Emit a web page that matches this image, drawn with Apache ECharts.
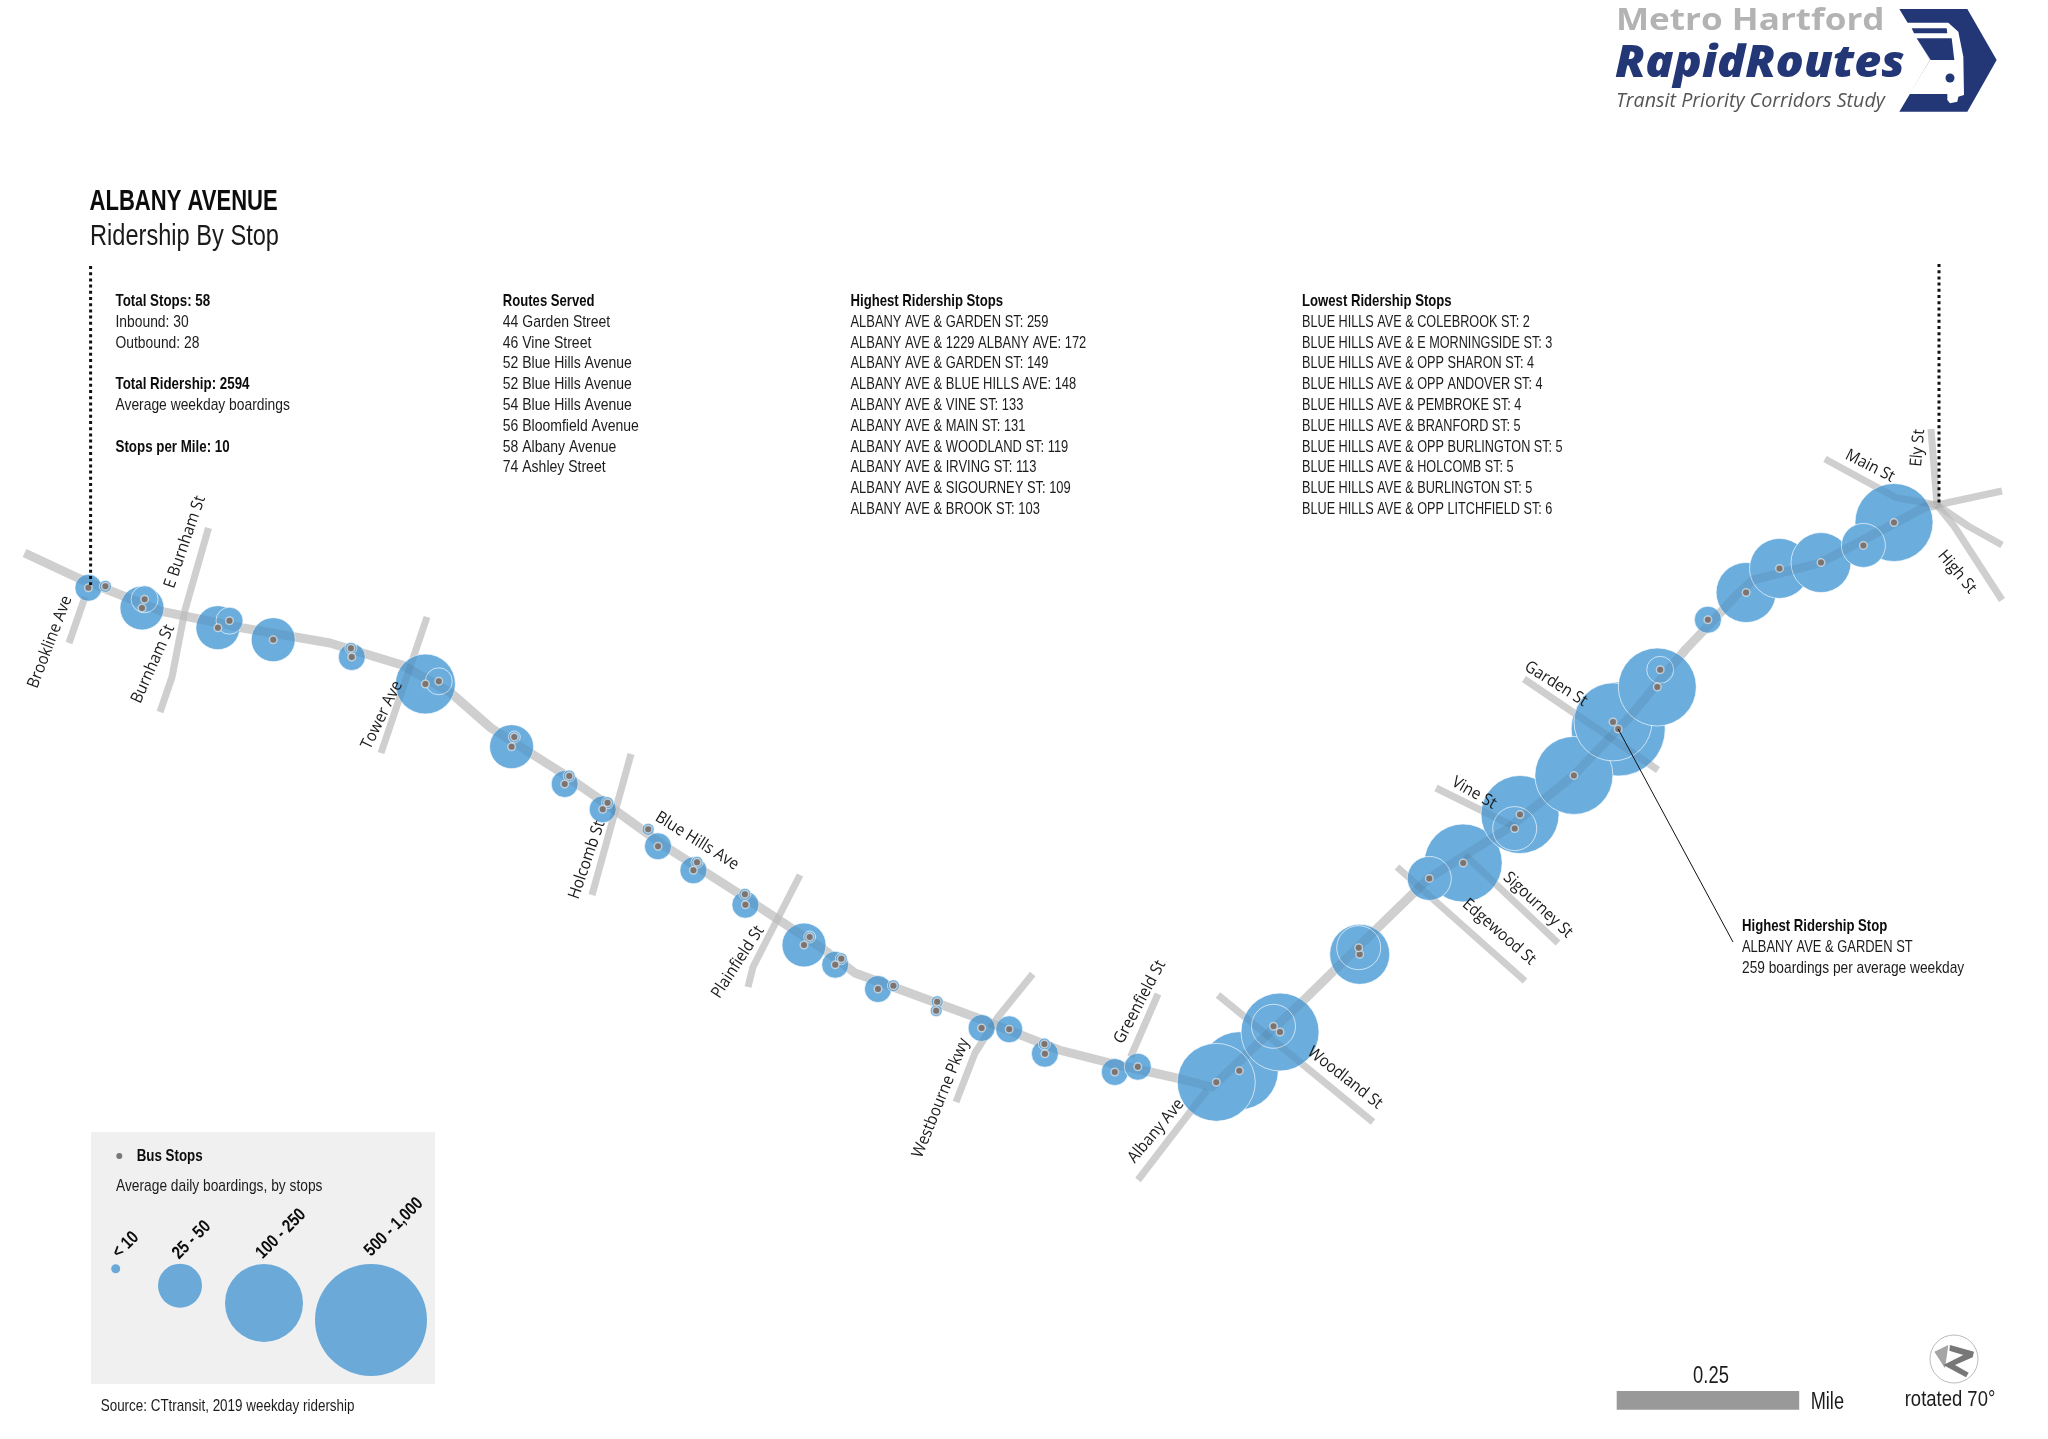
<!DOCTYPE html>
<html><head><meta charset="utf-8">
<script src="https://cdn.jsdelivr.net/npm/echarts@6/dist/echarts.min.js"></script>
<style>html,body{margin:0;padding:0;background:#fff}#c{width:2048px;height:1439px}</style>
</head><body><div id="c"></div>
<script>
// stops along the corridor (map x, map y, average weekday boardings)
const stopX = [88.4,105.4,142,144.6,217.9,229.5,273.2,351.8,350.9,425.4,438.8,511.6,514.3,564.7,569.2,602.7,607.6,648.2,658,693.4,697,745.4,744.9,804,809.7,835.2,841.3,878,893.4,937.2,936.2,981.6,1009.2,1044.9,1044.4,1114.8,1137.8,1239.3,1216.3,1280,1273.5,1359.7,1358.7,1429.3,1463.2,1514.7,1520,1573.9,1618.2,1613,1657.3,1660.2,1707.9,1746.1,1779.5,1821,1863.4,1894];
const stopY = [587.7,586.3,608,599.3,627.7,620.7,639.7,657,648.3,684,681.3,746.7,737,784,776,809.3,802.7,829.3,846.3,870.3,862.3,904.7,894.3,945,937,964.7,958.7,989,985.7,1001.7,1010.7,1028,1029.3,1053.7,1044,1072,1066.7,1070.7,1082.3,1032,1026.3,954.3,947.7,878.4,863,828.6,814.5,775.4,729,721.9,687,669.8,619.7,592.5,568.4,562.6,545.4,522.5];
const boardings = [14,3,38,13,42,15,44,16,6,92,12,40,5,14,4,13,5,2,15,14,4,13,5,41,5,12,5,14,3,4,5,15,13,16,5,14,12,103,148,119,39,82,36,37,109,43,133,172,259,149,113,15,14,84,86,88,41,131];
// graduated symbol classes of the legend
const classBreaks = [10,25,50,100,250,500];
const classSizes = [12,27,44,60,78,94,112];
const legendValues = [5,40,180,750];
const legendSizeOverride = [9,null,null,null];
const legendLabels = ['< 10','25 - 50','100 - 250','500 - 1,000'];
const legendX = [115.7,180,264,371];
const legendY = [1268.7,1285.7,1303,1320];

// street network
const mainRoute = [[24.6,553],[78,578],[163,611.7],[243,628],[330,643],[402,665],[451,693],[491,728],[562,773],[612,808],[666,847],[738,893],[824.5,950],[855,973],[896,988],[977.6,1018],[1059,1050],[1110,1063],[1176.5,1078],[1212,1087],[1304,1000],[1375.5,930],[1429,878],[1510,827],[1574,775],[1629,717.6],[1686,649],[1708,626],[1736.5,595],[1753,580],[1820,563],[1925,507],[1937,505]];
const brooklineAve = [[69,643],[85,597]];
const burnhamSt = [[208.5,528],[185,610],[172,677],[160,712]];
const towerAve = [[427,617],[381,753]];
const holcombSt = [[631,754],[592,895]];
const plainfieldSt = [[800,875],[776,922],[753,967],[748,987]];
const westbournePkwy = [[1032.7,974],[998,1017],[975,1053],[956,1102]];
const greenfieldSt = [[1158,994],[1130.6,1057]];
const albanyAve = [[1138,1180],[1207,1090]];
const woodlandSt = [[1218,995],[1373,1122]];
const edgewoodSt = [[1397,867],[1525,981]];
const sigourneySt = [[1465,855],[1558,943]];
const vineSt = [[1436,788],[1515,827]];
const gardenSt = [[1524,679],[1658,770]];
const mainSt = [[1825,459],[1896,497.6],[1937,505]];
const elySt = [[1931,429],[1937,505]];
const branchEast = [[1937,505],[2002,491]];
const branchSouthEast = [[1937,505],[1968,526],[2002,545]];
const highSt = [[1937,505],[1954,526],[2002,600]];
const crossStreets = [brooklineAve,burnhamSt,towerAve,holcombSt,plainfieldSt,westbournePkwy,greenfieldSt,albanyAve,woodlandSt,edgewoodSt,sigourneySt,vineSt,gardenSt,mainSt,elySt,branchEast,branchSouthEast,highSt];

const dottedLeft = [[90.6,266],[90.6,585]];
const dottedRight = [[1939,264],[1939,505]];
const leader = [[1618.2,729],[1733,942]];

// street labels: text, x, y, rotation
const streetLabels = [
 ['Brookline Ave',50,642,69],['E Burnham St',185,542,71],['Burnham St',153,664,66],['Tower Ave',382,715,64],
 ['Holcomb St',587,860,71],['Blue Hills Ave',697,841,-32],['Plainfield St',738,962,57],['Westbourne Pkwy',941,1098,68],
 ['Greenfield St',1140,1002,62],['Albany Ave',1156,1131,50],['Woodland St',1345,1078,-38],['Edgewood St',1499,932,-41],
 ['Sigourney St',1538,905,-43],['Vine St',1474,793,-30],['Garden St',1556,684,-32],['Main St',1870,466,-27],['Ely St',1918,448,85],['High St',1957,572,-50]
];

const statsLines = [['Total Stops: 58',1],['Inbound: 30',0],['Outbound: 28',0],['',0],['Total Ridership: 2594',1],['Average weekday boardings',0],['',0],['Stops per Mile: 10',1]];
const routesLines = ['Routes Served','44 Garden Street','46 Vine Street','52 Blue Hills Avenue','52 Blue Hills Avenue','54 Blue Hills Avenue','56 Bloomfield Avenue','58 Albany Avenue','74 Ashley Street'];
const highestLines = ['Highest Ridership Stops','ALBANY AVE & GARDEN ST: 259','ALBANY AVE & 1229 ALBANY AVE: 172','ALBANY AVE & GARDEN ST: 149','ALBANY AVE & BLUE HILLS AVE: 148','ALBANY AVE & VINE ST: 133','ALBANY AVE & MAIN ST: 131','ALBANY AVE & WOODLAND ST: 119','ALBANY AVE & IRVING ST: 113','ALBANY AVE & SIGOURNEY ST: 109','ALBANY AVE & BROOK ST: 103'];
const lowestLines = ['Lowest Ridership Stops','BLUE HILLS AVE & COLEBROOK ST: 2','BLUE HILLS AVE & E MORNINGSIDE ST: 3','BLUE HILLS AVE & OPP SHARON ST: 4','BLUE HILLS AVE & OPP ANDOVER ST: 4','BLUE HILLS AVE & PEMBROKE ST: 4','BLUE HILLS AVE & BRANFORD ST: 5','BLUE HILLS AVE & OPP BURLINGTON ST: 5','BLUE HILLS AVE & HOLCOMB ST: 5','BLUE HILLS AVE & BURLINGTON ST: 5','BLUE HILLS AVE & OPP LITCHFIELD ST: 6'];

const NARROW = '"Liberation Sans",sans-serif';
const OPEN = '"Open Sans",sans-serif';
const sizeOf = v => { let i = 0; while (i < classBreaks.length && v >= classBreaks[i]) i++; return classSizes[i]; };

const chart = echarts.init(document.getElementById('c'), null, {renderer:'canvas', width:2048, height:1439});
const gfx = [];
function T(text,x,y,o){ o=o||{}; gfx.push({type:'text',x,y,z:o.z||50,silent:true,rotation:(o.rot||0)*Math.PI/180,originX:0,originY:0,scaleX:o.sx||0.81,
  style:{text,fill:o.fill||'#1c1c1c',font:(o.style||'normal')+' '+(o.w||'normal')+' '+(o.size||17)+'px '+(o.fam||NARROW),textAlign:o.align||'left',textVerticalAlign:'middle',verticalAlign:'middle'}}); }
const BOLD = {w:'bold',fill:'#0c0c0c',sx:0.785};

// panels and text
gfx.push({type:'rect',z:0,shape:{x:91,y:1132,width:344,height:252},style:{fill:'#f0f0f0'},silent:true});
T('ALBANY AVENUE',89.5,201.5,{size:29,w:'bold',fill:'#0c0c0c',sx:0.76});
T('Ridership By Stop',90,236.5,{size:30,fill:'#1a1a1a',sx:0.787});
const rowY = i => 301.3 + i*20.8;
statsLines.forEach((r,i)=>{ if(r[0]) T(r[0],115.5,rowY(i),r[1]?BOLD:{sx:0.814}); });
routesLines.forEach((t,i)=>T(t,502.8,rowY(i),i?{sx:0.824}:Object.assign({},BOLD,{sx:0.77})));
highestLines.forEach((t,i)=>T(t,850.5,rowY(i),i?{sx:0.76}:Object.assign({},BOLD,{sx:0.773})));
lowestLines.forEach((t,i)=>T(t,1302,rowY(i),i?{sx:0.745}:Object.assign({},BOLD,{sx:0.773})));
T('Highest Ridership Stop',1742,926,Object.assign({},BOLD,{sx:0.773}));
T('ALBANY AVE & GARDEN ST',1742,947,{sx:0.76});
T('259 boardings per average weekday',1742,968,{sx:0.808});
streetLabels.forEach(s=>T(s[0],s[1],s[2],{rot:s[3],fam:OPEN,size:16.5,sx:0.92,align:'center',fill:'#1a1a1a'}));

// legend
gfx.push({type:'circle',z:50,shape:{cx:119.3,cy:1156,r:3},style:{fill:'#777'},silent:true});
T('Bus Stops',136.7,1156.5,BOLD);
T('Average daily boardings, by stops',116,1186,{sx:0.81});
[[125.7,1245],[191.7,1240],[281,1234],[394,1227]].forEach((p,i)=>T(legendLabels[i],p[0],p[1],{rot:45,w:'bold',align:'center',size:18,sx:0.82,fill:'#0c0c0c'}));
T('Source: CTtransit, 2019 weekday ridership',100.7,1406,{sx:0.79});

// scale bar + north arrow
gfx.push({type:'rect',z:5,shape:{x:1616.7,y:1391,width:182.5,height:18.7},style:{fill:'#999'},silent:true});
T('0.25',1711,1377,{size:23,align:'center',sx:0.8});
T('Mile',1810.7,1403,{size:23,sx:0.79});
T('rotated 70°',1950,1400,{size:22,align:'center',sx:0.84});
gfx.push({type:'circle',z:5,shape:{cx:1954,cy:1359,r:24},style:{fill:'#fff',stroke:'#bbb',lineWidth:1},silent:true});
const nOff = p => p.map(a=>[1600+a[0]/3,1320+a[1]/3]);
gfx.push({type:'polygon',z:6,shape:{points:nOff([[1045,75],[1003,95],[1035,145],[1040,110]])},style:{fill:'#a5a5a5'},silent:true});
gfx.push({type:'polygon',z:6,shape:{points:nOff([[1050,75],[1122,95],[1118,112],[1065,135],[1106,158],[1098,172],[1030,135],[1090,105],[1048,92]])},style:{fill:'#777'},silent:true});

// logo
const logoP = p => p.map(a=>[1560+a[0]/3,a[1]/3]);
T('Metro Hartford',1616,21,{fam:OPEN,w:'bold',size:30,sx:1.17,fill:'#b3b3b3'});
T('RapidRoutes',1615,64,{fam:OPEN,w:800,style:'italic',size:44,sx:1.06,fill:'#233776'});
T('Transit Priority Corridors Study',1616,101,{fam:OPEN,style:'italic',size:20,sx:0.985,fill:'#555'});
gfx.push({type:'polygon',z:10,shape:{points:logoP([[1018,27],[1222,27],[1310,180],[1222,335],[1018,335],[1110,180]])},style:{fill:'#233776'},silent:true});
gfx.push({type:'polygon',z:11,shape:{points:logoP([[1040,68],[1165,68],[1195,95],[1210,170],[1212,285],[1195,290],[1192,305],[1170,310],[1162,300],[1162,282],[1048,282],[1110,180]])},style:{fill:'#fff'},silent:true});
gfx.push({type:'polygon',z:12,shape:{points:logoP([[1055,85],[1160,85],[1162,100],[1062,100]])},style:{fill:'#233776'},silent:true});
gfx.push({type:'polygon',z:12,shape:{points:logoP([[1070,115],[1175,115],[1183,180],[1112,180]])},style:{fill:'#233776'},silent:true});
gfx.push({type:'circle',z:12,shape:{cx:1560+1170/3,cy:234/3,r:4.5},style:{fill:'#233776'},silent:true});

// series
const roadSeries = (pts,width,color,z,extra)=>Object.assign({type:'line',data:pts,symbol:'none',silent:true,animation:false,clip:false,z,
  lineStyle:{color,width,cap:'butt',join:'round'}},extra||{});
const series = [];
const under = '#dedede', over = '#eeeeee';
crossStreets.forEach(s=>series.push(roadSeries(s,7,under,1)));
series.push(roadSeries(mainRoute,9,under,1));
const order = stopX.map((_,i)=>i).sort((a,b)=>sizeOf(boardings[b])-sizeOf(boardings[a]) || a-b);
series.push({type:'scatter',z:2,silent:true,animation:false,clip:false,
  data:order.map(i=>({value:[stopX[i],stopY[i]],symbolSize:sizeOf(boardings[i])})),
  itemStyle:{color:'#6baddd',opacity:1,borderColor:'rgba(255,255,255,0.65)',borderWidth:1}});
crossStreets.forEach(s=>series.push(roadSeries(s,7,over,3,{blendMode:'multiply'})));
series.push(roadSeries(mainRoute,9,over,3,{blendMode:'multiply'}));
series.push({type:'scatter',z:4,silent:true,animation:false,clip:false,symbolSize:7.5,
  data:stopX.map((x,i)=>[x,stopY[i]]),
  itemStyle:{color:'#7a7472',opacity:1,borderColor:'rgba(255,255,255,0.55)',borderWidth:1.5}});
series.push({type:'scatter',z:2,silent:true,animation:false,clip:false,
  data:legendValues.map((v,i)=>({value:[legendX[i],legendY[i]],symbolSize:legendSizeOverride[i]||sizeOf(v)})),
  itemStyle:{color:'#6aa9d8',opacity:1}});
series.push({type:'line',data:dottedLeft,symbol:'none',silent:true,animation:false,z:5,lineStyle:{color:'#111',width:3,type:[3,3.2]}});
series.push({type:'line',data:dottedRight,symbol:'none',silent:true,animation:false,z:5,lineStyle:{color:'#111',width:3,type:[3,3.2]}});
series.push({type:'line',data:leader,symbol:'none',silent:true,animation:false,z:5,lineStyle:{color:'#111',width:1}});

chart.setOption({
  animation:false,backgroundColor:'#fff',
  grid:{left:0,right:0,top:0,bottom:0},
  xAxis:{type:'value',min:0,max:2048,show:false},
  yAxis:{type:'value',min:0,max:1439,inverse:true,show:false},
  series,graphic:{elements:gfx}
});
</script></body></html>
